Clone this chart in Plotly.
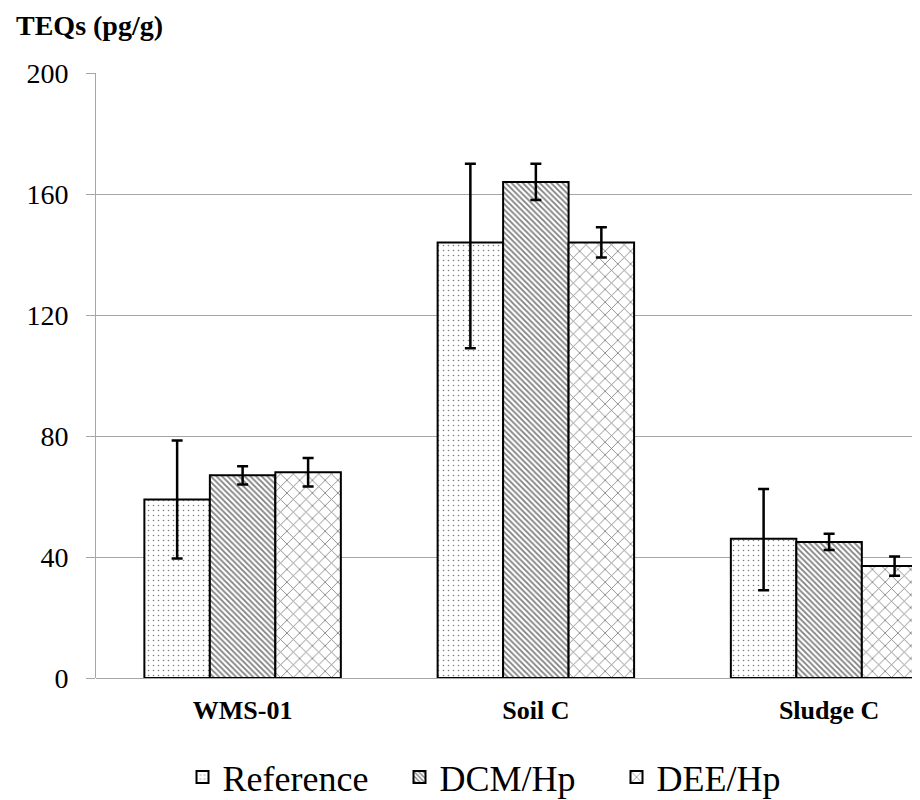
import plotly.graph_objects as go

categories = ["<b>WMS-01</b>", "<b>Soil C</b>", "<b>Sludge C</b>"]
series_names = ["Reference", "DCM/Hp", "DEE/Hp"]
reference_vals = [59, 144, 46]
reference_err_plus = [19.5, 26, 16.5]
reference_err_minus = [19.5, 35, 17]
dcm_vals = [67, 164, 45]
dcm_err = [3, 6, 2.7]
dee_vals = [68, 144, 37]
dee_err = [4.7, 5, 3.2]
y_ticks = [0, 40, 80, 120, 160, 200]

patterns = [
    dict(shape=".", fgcolor="black", bgcolor="white", size=5, solidity=0.08),
    dict(shape="\\", fgcolor="black", bgcolor="white", size=4, solidity=0.45),
    dict(shape="x", fgcolor="black", bgcolor="white", size=9, solidity=0.18),
]

fig = go.Figure()
data = [
    (reference_vals, reference_err_plus, reference_err_minus),
    (dcm_vals, dcm_err, dcm_err),
    (dee_vals, dee_err, dee_err),
]
for name, (vals, ep, em), pat in zip(series_names, data, patterns):
    fig.add_trace(go.Bar(
        name=name, x=categories, y=vals,
        marker=dict(color="white", pattern=pat, line=dict(color="black", width=2)),
        error_y=dict(type="data", array=ep, arrayminus=em, symmetric=False,
                     color="black", thickness=2.5, width=5.5),
    ))

fig.update_layout(
    width=912, height=792,
    margin=dict(l=88, r=0, t=65, b=122, autoexpand=False),
    paper_bgcolor="white", plot_bgcolor="white",
    barmode="group", bargap=0.33, bargroupgap=0,
    font=dict(family="Liberation Serif", color="black"),
    showlegend=True,
    legend=dict(orientation="h", x=0.5, xanchor="center", y=-0.164, yanchor="middle",
                font=dict(size=36, family="Liberation Serif", color="black"),
                itemwidth=30, entrywidth=172, traceorder="normal"),
    xaxis=dict(range=[-0.5, 2.31], showgrid=False, showline=False,
               ticklabelstandoff=14,
               tickfont=dict(size=26, family="Liberation Serif", color="black"), ticks=""),
    yaxis=dict(range=[0, 200], tickvals=y_ticks, showgrid=True, gridcolor="#a6a6a6",
               gridwidth=1, showline=True, linecolor="#a6a6a6", linewidth=1,
               ticks="outside", ticklen=9, tickcolor="#a6a6a6",
               ticklabelstandoff=12,
               zeroline=True, zerolinecolor="#a6a6a6", zerolinewidth=1,
               tickfont=dict(size=28, family="Liberation Serif", color="black")),
    annotations=[dict(text="<b>TEQs (pg/g)</b>", xref="paper", yref="paper",
                      x=0, y=1.0, xanchor="left", yanchor="bottom", xshift=-82, yshift=30,
                      showarrow=False,
                      font=dict(size=28, family="Liberation Serif", color="black"))],
)

fig.write_html("out.html")
